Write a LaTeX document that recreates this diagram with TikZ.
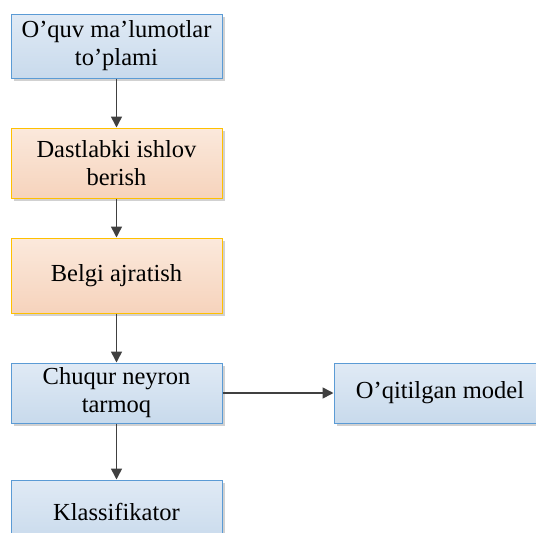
\documentclass[tikz,border=0pt]{standalone}
\usepackage{fontspec}
\setmainfont{Liberation Serif}
\usetikzlibrary{arrows.meta,shadows}
\definecolor{bluefillT}{HTML}{E0EAF5}
\definecolor{bluefillB}{HTML}{C8DAEC}
\definecolor{blueline}{HTML}{5B9BD5}
\definecolor{orfillT}{HTML}{FBE9DC}
\definecolor{orfillB}{HTML}{F6D3BC}
\definecolor{orline}{HTML}{FFC000}
\definecolor{arr}{HTML}{404040}
\tikzset{
  box/.style={rectangle, draw, line width=1pt, minimum width=211pt, align=center,
    font=\fontsize{24.5}{28}\selectfont, inner sep=0pt,
    drop shadow={shadow xshift=2.5pt, shadow yshift=-2.5pt, fill=black, opacity=0.18}},
  bluebox/.style={box, draw=blueline, top color=bluefillT, bottom color=bluefillB},
  orbox/.style={box, draw=orline, top color=orfillT, bottom color=orfillB},
  conn/.style={draw=arr, line width=1.6pt, -{Triangle[length=11pt,width=11pt]}, color=arr}
}
\begin{document}
\begin{tikzpicture}[x=1pt,y=-1pt]
\useasboundingbox (0,0) rectangle (536,533);
\clip (0,0) rectangle (536,533);
\node[bluebox, minimum height=64pt] (b1) at (116.5,46) {O’quv ma’lumotlar\\to’plami};
\node[orbox, minimum height=70pt] (b2) at (116.5,163) {Dastlabki ishlov\\berish};
\node[orbox, minimum height=75pt] (b3) at (116.5,275.5) {Belgi ajratish};
\node[bluebox, minimum height=60pt] (b4) at (116.5,393) {Chuqur neyron\\tarmoq};
\node[bluebox, minimum height=64pt] (b5) at (116.5,512) {Klassifikator};
\node[bluebox, minimum height=60pt, minimum width=212pt] (b6) at (440,393) {O’qitilgan model};
\draw[conn] (b1) -- (b2);
\draw[conn] (b2) -- (b3);
\draw[conn] (b3) -- (b4);
\draw[conn] (b4) -- (b5);
\draw[conn] (b4) -- (b6);
\end{tikzpicture}
\end{document}
